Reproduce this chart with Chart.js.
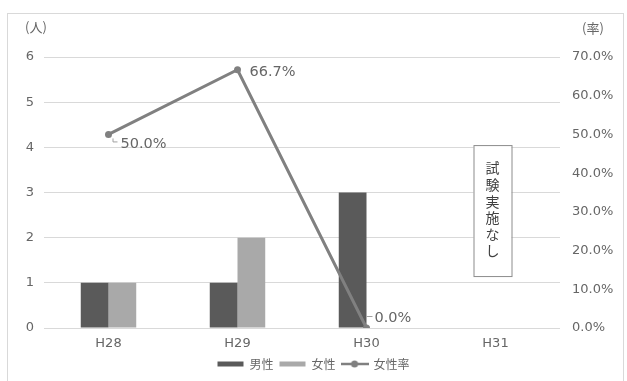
<!DOCTYPE html>
<html>
<head>
<meta charset="utf-8">
<script src="https://cdn.jsdelivr.net/npm/chart.js@4.4.1/dist/chart.umd.min.js"></script>
<style>
  html, body { margin: 0; padding: 0; background: #fff; }
  #wrap { position: relative; width: 627px; height: 381px; overflow: hidden; }
  #frame { position: absolute; left: 7px; top: 13px; width: 615px; height: 400px; border: 1px solid #d9d9d9; }
  #chart { position: absolute; left: 0; top: 0; }
</style>
</head>
<body>
<div id="wrap">
  <div id="frame"></div>
  <canvas id="chart" width="627" height="381"></canvas>
</div>
<script>
// 年度ごとの受験者数と女性比率
const years = ['H28', 'H29', 'H30', 'H31'];
const male = [1, 1, 3, null];
const female = [1, 2, 0, null];
const femaleRate = [50.0, 66.7, 0.0, null];

const countTicks = [0, 1, 2, 3, 4, 5, 6];
const rateTicks = [0, 10, 20, 30, 40, 50, 60, 70];

const textColor = '#666666';
const numFont = "'DejaVu Sans', 'Noto Sans CJK JP', sans-serif";
const jpFont = "'Noto Sans CJK JP', 'Noto Sans', sans-serif";

// legend swatch for the line series: a line with a dot in the middle
function lineSwatch() {
    const c = document.createElement('canvas');
    c.width = 28;
    c.height = 8;
    const g = c.getContext('2d');
    g.strokeStyle = '#808080';
    g.lineWidth = 2.5;
    g.beginPath();
    g.moveTo(0, 4);
    g.lineTo(28, 4);
    g.stroke();
    g.fillStyle = '#808080';
    g.beginPath();
    g.arc(14, 4, 3.5, 0, Math.PI * 2);
    g.fill();
    return c;
}

// data labels for the rate line, plus the axis unit captions and the note box
const extras = {
    id: 'extras',
    afterDatasetsDraw(chart) {
        const ctx = chart.ctx;
        const meta = chart.getDatasetMeta(0);
        const offsets = [[12, 10], [12, 2], [8, -10]];
        ctx.save();
        ctx.font = '14.5px ' + numFont;
        ctx.fillStyle = textColor;
        ctx.textBaseline = 'middle';
        ctx.textAlign = 'left';
        meta.data.forEach((pt, i) => {
            const v = femaleRate[i];
            if (v === null || pt.skip) return;
            const [dx, dy] = offsets[i];
            ctx.fillText(v.toFixed(1) + '%', pt.x + dx, pt.y + dy);
        });
        // small leader marks next to two of the labels
        ctx.strokeStyle = '#a0a0a0';
        ctx.lineWidth = 1;
        const p0 = meta.data[0], p2 = meta.data[2];
        ctx.beginPath();
        ctx.moveTo(p0.x + 4.5, p0.y + 4);
        ctx.lineTo(p0.x + 4.5, p0.y + 7.5);
        ctx.lineTo(p0.x + 9, p0.y + 7.5);
        ctx.moveTo(p2.x, p2.y - 11.5);
        ctx.lineTo(p2.x + 6, p2.y - 11.5);
        ctx.stroke();

        // unit captions above each y axis
        ctx.font = '13px ' + jpFont;
        ctx.textAlign = 'left';
        ctx.fillText('(人)', 25, 27);
        ctx.fillText('(率)', 582, 28);

        // "試験実施なし" note box over H31
        const xs = chart.scales.x;
        const ys = chart.scales.y;
        const cx = xs.getPixelForValue(3) - 3;
        const top = ys.getPixelForValue(4.05);
        const bottom = ys.getPixelForValue(1.15);
        ctx.fillStyle = '#fff';
        ctx.fillRect(cx - 19, top, 38, bottom - top);
        ctx.strokeStyle = '#8c8c8c';
        ctx.strokeRect(cx - 19 + 0.5, top + 0.5, 38, bottom - top);
        ctx.fillStyle = '#404040';
        ctx.font = '14px ' + jpFont;
        ctx.textAlign = 'center';
        const note = '試験実施なし';
        for (let i = 0; i < note.length; i++) {
            ctx.fillText(note[i], cx, top + 23 + i * 16.6);
        }
        ctx.restore();
    }
};

new Chart(document.getElementById('chart'), {
    data: {
        labels: years,
        datasets: [
            {
                type: 'line',
                label: '女性率',
                data: femaleRate,
                yAxisID: 'y2',
                borderColor: '#808080',
                backgroundColor: '#808080',
                borderWidth: 3,
                pointRadius: 3.5,
                pointBackgroundColor: '#808080',
                pointBorderWidth: 0,
                order: -1
            },
            {
                type: 'bar',
                label: '男性',
                data: male,
                yAxisID: 'y',
                backgroundColor: '#5a5a5a',
                categoryPercentage: 0.43,
                barPercentage: 1
            },
            {
                type: 'bar',
                label: '女性',
                data: female,
                yAxisID: 'y',
                backgroundColor: '#a9a9a9',
                categoryPercentage: 0.43,
                barPercentage: 1
            }
        ]
    },
    options: {
        responsive: false,
        animation: false,
        events: [],
        layout: { padding: { top: 57, left: 0, right: 0, bottom: 1 } },
        plugins: {
            tooltip: { enabled: false },
            legend: {
                position: 'bottom',
                labels: {
                    usePointStyle: true,
                    pointStyleWidth: 26,
                    boxHeight: 5,
                    padding: 6,
                    color: textColor,
                    font: { family: jpFont, size: 12 },
                    generateLabels(chart) {
                        const items = Chart.defaults.plugins.legend.labels.generateLabels(chart);
                        items.sort((a, b) => {
                            const oa = a.datasetIndex === 0 ? 9 : a.datasetIndex;
                            const ob = b.datasetIndex === 0 ? 9 : b.datasetIndex;
                            return oa - ob;
                        });
                        items.forEach(it => {
                            it.lineWidth = 0;
                            if (it.datasetIndex === 0) {
                                it.pointStyle = lineSwatch();
                            } else {
                                it.pointStyle = 'rect';
                            }
                        });
                        return items;
                    }
                }
            }
        },
        scales: {
            x: {
                grid: { display: false, drawTicks: false },
                border: { display: false },
                ticks: { color: textColor, font: { family: numFont, size: 13 }, padding: 8 },
                afterFit(scale) { scale.height = 24; }
            },
            y: {
                position: 'left',
                min: 0,
                max: 6,
                afterBuildTicks(scale) { scale.ticks = countTicks.map(v => ({ value: v })); },
                grid: { color: '#d9d9d9', lineWidth: 1, drawTicks: false },
                border: { display: false },
                ticks: { color: textColor, font: { family: numFont, size: 13 }, padding: 10 },
                afterFit(scale) { scale.width = 44; }
            },
            y2: {
                position: 'right',
                min: 0,
                max: 70,
                afterBuildTicks(scale) { scale.ticks = rateTicks.map(v => ({ value: v })); },
                grid: { display: false, drawTicks: false },
                border: { display: false },
                ticks: {
                    color: textColor,
                    font: { family: numFont, size: 13 },
                    padding: 12,
                    callback: v => v.toFixed(1) + '%'
                },
                afterFit(scale) { scale.width = 67; }
            }
        }
    },
    plugins: [extras]
});
</script>
</body>
</html>
